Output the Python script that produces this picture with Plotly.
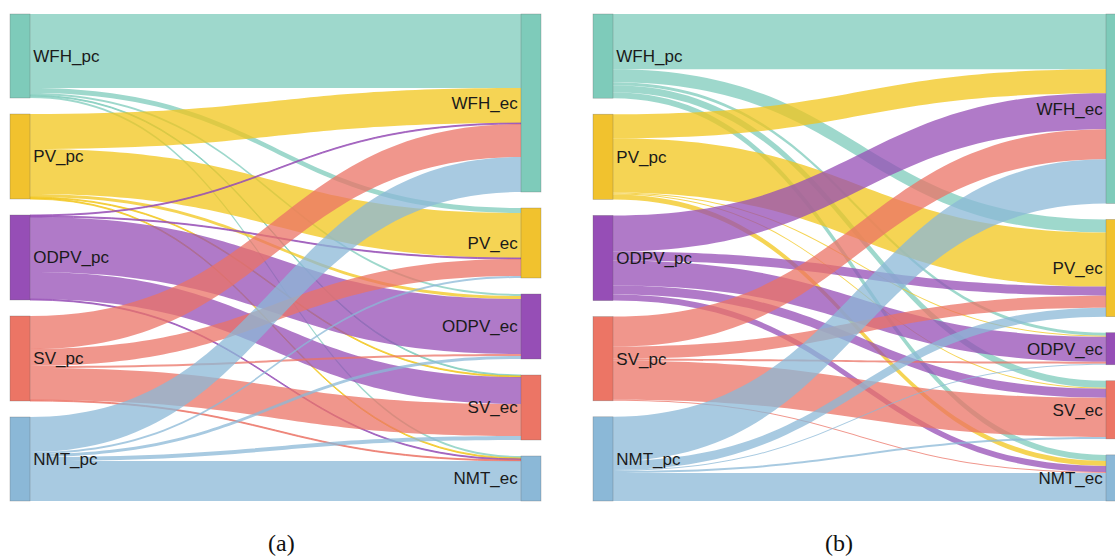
import plotly.graph_objects as go

# Mode categories: previous choice (pc) on the left, expected choice (ec) on the right
pc_labels = ["WFH_pc", "PV_pc", "ODPV_pc", "SV_pc", "NMT_pc"]
ec_labels = ["WFH_ec", "PV_ec", "ODPV_ec", "SV_ec", "NMT_ec"]

# Flows for scenario (a): one row per pc mode, one column per ec mode
flows_a_wfh = [74, 5, 2, 1, 2]
flows_a_pv = [35, 45, 3, 1, 1]
flows_a_odpv = [1, 1, 55, 27, 1]
flows_a_sv = [33, 17, 2, 32, 1]
flows_a_nmt = [35, 2, 3, 4, 40]

# Flows for scenario (b)
flows_b_wfh = [55, 13, 3, 7, 6]
flows_b_pv = [24, 54, 1, 1, 5]
flows_b_odpv = [36, 9, 25, 9, 6]
flows_b_sv = [30, 12, 2, 39, 1]
flows_b_nmt = [44, 9, 1, 2, 28]

panel_titles = ["(a)", "(b)"]

node_colors = ["#7ECBBA", "#F1C22E", "#964EB6", "#EC7565", "#8BB8D7"]
link_rgb = [(126, 203, 187), (242, 198, 27), (150, 78, 182), (235, 115, 102), (139, 184, 215)]
LINK_ALPHA = 0.75

W, H = 1130, 558
TOP, BOTTOM = 14, 501          # vertical extent of node columns (px)
THICK, PAD = 20, 16            # node thickness / gap between nodes (px)
panel_x = [(10, 541), (593, 1126)]   # horizontal extent of each diagram (px)


def column_centres(values, height, scale):
    """Normalised centre of each stacked node in a column."""
    ys, top = [], 0.0
    for v in values:
        h = v * scale
        ys.append((top + h / 2) / height)
        top += h + PAD
    return ys


def make_sankey(rows, x0, x1):
    n = len(pc_labels)
    src, tgt, val, col = [], [], [], []
    for i, row in enumerate(rows):
        for j, v in enumerate(row):
            src.append(i)
            tgt.append(n + j)
            val.append(v)
            r, g, b = link_rgb[i]
            col.append(f"rgba({r},{g},{b},{LINK_ALPHA})")

    out_tot = [sum(r) for r in rows]
    in_tot = [sum(r[j] for r in rows) for j in range(n)]
    height = BOTTOM - TOP
    width = x1 - x0
    scale = min((height - PAD * (n - 1)) / sum(out_tot),
                (height - PAD * (n - 1)) / sum(in_tot))

    node_x = [(THICK / 2) / width] * n + [(width - THICK / 2) / width] * n
    node_y = column_centres(out_tot, height, scale) + column_centres(in_tot, height, scale)

    return go.Sankey(
        arrangement="fixed",
        domain=dict(x=[x0 / W, x1 / W], y=[1 - BOTTOM / H, 1 - TOP / H]),
        node=dict(
            label=pc_labels + ec_labels,
            color=node_colors + node_colors,
            x=node_x,
            y=node_y,
            thickness=THICK,
            pad=PAD,
            line=dict(color="rgba(90,90,90,0.45)", width=0.6),
        ),
        link=dict(source=src, target=tgt, value=val, color=col,
                  line=dict(width=0)),
        textfont=dict(family="Liberation Sans, Arial, sans-serif", size=17,
                      color="#1a1a1a", shadow="none"),
    )


fig = go.Figure()
fig.add_trace(make_sankey([flows_a_wfh, flows_a_pv, flows_a_odpv, flows_a_sv, flows_a_nmt],
                          *panel_x[0]))
fig.add_trace(make_sankey([flows_b_wfh, flows_b_pv, flows_b_odpv, flows_b_sv, flows_b_nmt],
                          *panel_x[1]))

for title, cx in zip(panel_titles, [281, 839]):
    fig.add_annotation(
        text=title, x=cx / W, y=1 - 543 / H, xref="paper", yref="paper",
        xanchor="center", yanchor="middle", showarrow=False,
        font=dict(family="Liberation Serif, Times New Roman, serif", size=24, color="#111111"),
    )

fig.update_layout(
    width=W, height=H,
    margin=dict(l=0, r=0, t=0, b=0),
    paper_bgcolor="white",
    plot_bgcolor="white",
)

fig.write_html(
    "out.html",
    config={"displayModeBar": False},
    post_script="document.documentElement.style.overflow='hidden';document.body.style.overflow='hidden';",
)
